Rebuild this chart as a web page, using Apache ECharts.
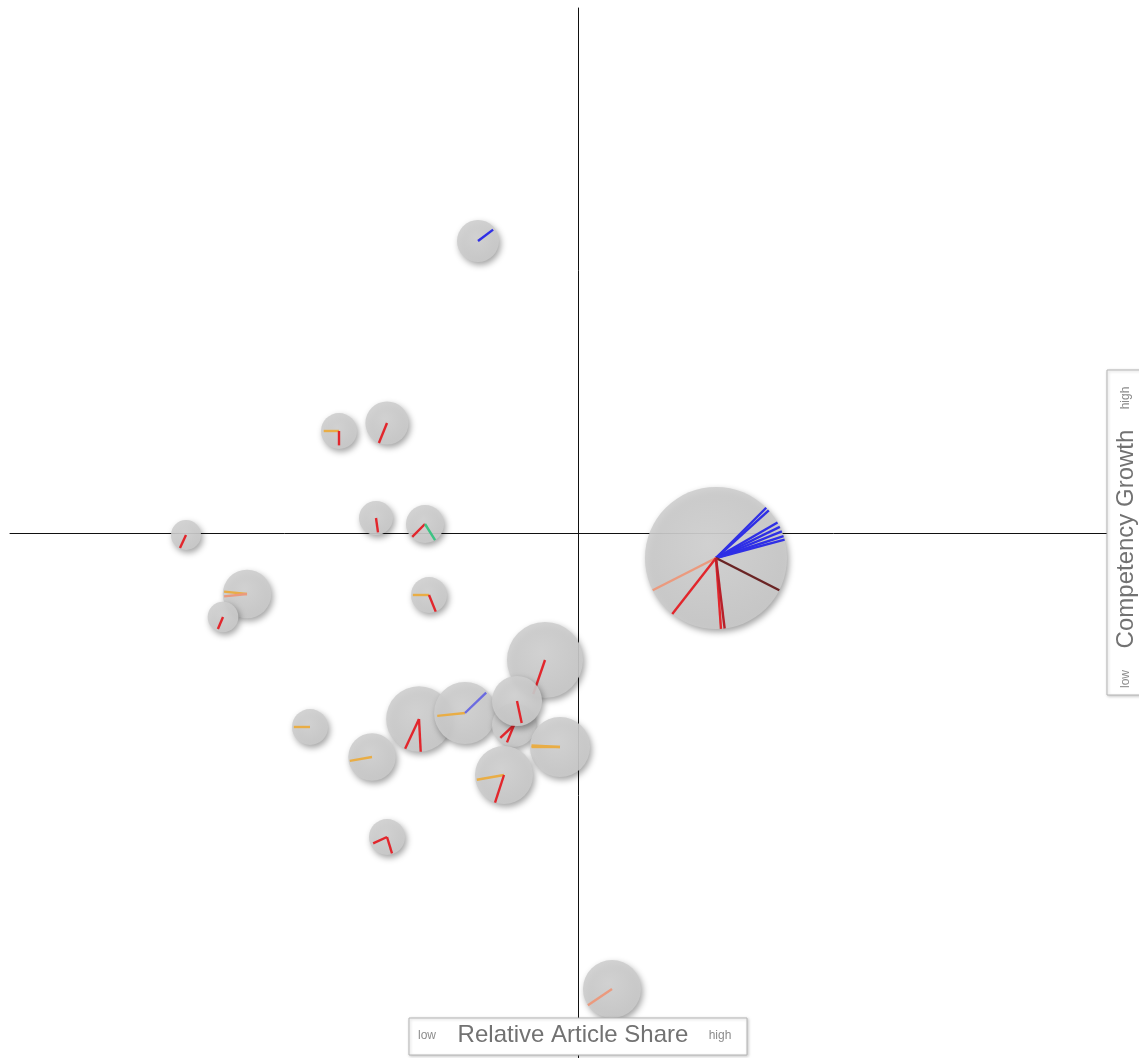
<!DOCTYPE html>
<html>
<head>
<meta charset="utf-8">
<script src="https://cdn.jsdelivr.net/npm/echarts@6/dist/echarts.min.js"></script>
<style>
  html, body { margin: 0; padding: 0; background: #fff; }
  #main { width: 1139px; height: 1058px; }
</style>
</head>
<body>
<div id="main"></div>
<script>
// bubble positions (relative article share / competency growth) and article counts
const bubbleX = [-1.00, -2.39, -1.91, -3.92, -2.02, -1.53, -3.31, -3.55, -1.49, 1.38, -0.33,
                 -1.59, -1.13, -0.64, -0.61, -0.18, -0.74, -2.68, -2.06, -1.91, 0.34];
const bubbleY = [2.92, 1.02, 1.10, -0.02, 0.15, 0.09, -0.61, -0.84, -0.62, -0.25, -1.27,
                 -1.86, -1.80, -1.92, -1.68, -2.14, -2.42, -1.94, -2.24, -3.04, -4.56];
const bubbleCount = [9, 6.6, 9.5, 4.6, 5.9, 7.4, 12, 4.8, 6.6, 103, 29.5,
                     22, 19.6, 9.9, 12.8, 18.4, 17.2, 6.6, 11.5, 6.6, 17.2];

// spokes: bubble index, angle (deg, ccw from east), length (share of radius), colour
const spokeBubble = [0, 1, 1, 2, 3, 4, 5, 5, 6, 6, 7, 8, 8,
                     9, 9, 9, 9, 9, 9, 9, 9, 9, 9, 9, 9,
                     10, 11, 11, 12, 12, 13, 13, 14, 15, 15, 16, 16, 17, 18, 19, 19, 20];
const spokeAngle = [37, 180, -90, -112, -115, -82, -135, -58, 174, 186, -113, 180, -68,
                    45, 42, 30, 26, 22, 18, 15, -27, -153, -128, -86, -83,
                    -109, -115, -87, 186, 44, -137, -112, -78, 180, 177, 190, -108, 180, 190, 205, -73, 214];
const spokeLen = [0.9, 0.85, 0.8, 1.0, 0.95, 0.85, 0.95, 1.0, 0.95, 0.95, 0.85, 0.9, 1.0,
                  1, 1, 1, 1, 1, 1, 1, 1, 1, 1, 1, 1,
                  0.95, 1.0, 1.0, 0.9, 0.95, 0.85, 0.85, 0.9, 0.95, 0.95, 0.95, 1.0, 0.9, 0.95, 0.85, 0.95, 1.0];
const spokeColor = ['blue', 'orange', 'red', 'red', 'red', 'red', 'red', 'green', 'orange', 'salmon', 'red', 'orange', 'red',
                    'blue', 'blue', 'blue', 'blue', 'blue', 'blue', 'blue', 'brown', 'salmon', 'red', 'red', 'darkred',
                    'red', 'red', 'red', 'orange', 'violet', 'red', 'red', 'red', 'orange', 'orange', 'orange', 'red',
                    'orange', 'orange', 'red', 'red', 'salmon'];

const palette = {
    red: '#e2262c',
    darkred: '#b8202a',
    orange: '#e9ad45',
    salmon: '#eb9a7e',
    blue: '#2f2fe6',
    violet: '#6b6be0',
    green: '#3cc383',
    brown: '#6a2424'
};

const bubbleData = bubbleX.map(function (x, i) {
    return [x, bubbleY[i], bubbleCount[i]];
});

function renderBubble(params, api) {
    const i = params.dataIndex;
    const c = api.coord([api.value(0), api.value(1)]);
    const r = Math.sqrt(api.value(2)) * 7;
    const children = [{
        type: 'circle',
        shape: { cx: c[0], cy: c[1], r: r },
        style: {
            fill: {
                type: 'radial', x: 0.45, y: 0.4, r: 0.7,
                colorStops: [
                    { offset: 0, color: '#d6d6d6' },
                    { offset: 1, color: '#c8c8c8' }
                ]
            },
            opacity: 0.9,
            shadowBlur: 6,
            shadowOffsetX: 2,
            shadowOffsetY: 3,
            shadowColor: 'rgba(0,0,0,0.4)'
        }
    }];
    for (let k = 0; k < spokeBubble.length; k++) {
        if (spokeBubble[k] !== i) continue;
        const a = spokeAngle[k] * Math.PI / 180;
        const len = spokeLen[k] * r;
        children.push({
            type: 'line',
            shape: {
                x1: c[0], y1: c[1],
                x2: c[0] + Math.cos(a) * len,
                y2: c[1] - Math.sin(a) * len
            },
            style: { stroke: palette[spokeColor[k]], lineWidth: 2.4 }
        });
    }
    return { type: 'group', children: children };
}

const boxText = '#727272';
const smallText = '#8c8c8c';

var option = {
    animation: false,
    backgroundColor: '#ffffff',
    grid: { left: 10, right: 31, top: 8, bottom: 0 },
    xAxis: {
        type: 'value',
        min: -5.68,
        max: 5.30,
        axisLine: { onZero: true, lineStyle: { color: '#111', width: 1 } },
        axisTick: { show: false },
        axisLabel: { show: false },
        splitLine: { show: false }
    },
    yAxis: {
        type: 'value',
        min: -5.25,
        max: 5.25,
        axisLine: { onZero: true, lineStyle: { color: '#111', width: 1 } },
        axisTick: { show: false },
        axisLabel: { show: false },
        splitLine: { show: false }
    },
    series: [{
        type: 'custom',
        renderItem: renderBubble,
        clip: false,
        encode: { x: 0, y: 1 },
        data: bubbleData
    }],
    graphic: [
        {
            type: 'rect', z: 10,
            shape: { x: 409, y: 1018, width: 338, height: 37 },
            style: { fill: '#fff', stroke: '#b5b5b5', lineWidth: 1,
                     shadowBlur: 3, shadowOffsetX: 1, shadowOffsetY: 1, shadowColor: 'rgba(0,0,0,0.2)' }
        },
        {
            type: 'text', z: 11, x: 427, y: 1036,
            style: { text: 'low', fill: smallText, font: '12px "Liberation Sans", Arial, sans-serif',
                     textAlign: 'center', textVerticalAlign: 'middle' }
        },
        {
            type: 'text', z: 11, x: 573, y: 1035,
            style: { text: 'Relative Article Share', fill: boxText, font: '24px "Liberation Sans", Arial, sans-serif',
                     textAlign: 'center', textVerticalAlign: 'middle' }
        },
        {
            type: 'text', z: 11, x: 720, y: 1036,
            style: { text: 'high', fill: smallText, font: '12px "Liberation Sans", Arial, sans-serif',
                     textAlign: 'center', textVerticalAlign: 'middle' }
        },
        {
            type: 'rect', z: 10,
            shape: { x: 1107, y: 370, width: 40, height: 325 },
            style: { fill: '#fff', stroke: '#b5b5b5', lineWidth: 1,
                     shadowBlur: 3, shadowOffsetX: 1, shadowOffsetY: 1, shadowColor: 'rgba(0,0,0,0.2)' }
        },
        {
            type: 'text', z: 11, x: 1126, y: 679, rotation: Math.PI / 2,
            style: { text: 'low', fill: smallText, font: '12px "Liberation Sans", Arial, sans-serif',
                     textAlign: 'center', textVerticalAlign: 'middle' }
        },
        {
            type: 'text', z: 11, x: 1126, y: 539, rotation: Math.PI / 2,
            style: { text: 'Competency Growth', fill: boxText, font: '24px "Liberation Sans", Arial, sans-serif',
                     textAlign: 'center', textVerticalAlign: 'middle' }
        },
        {
            type: 'text', z: 11, x: 1126, y: 398, rotation: Math.PI / 2,
            style: { text: 'high', fill: smallText, font: '12px "Liberation Sans", Arial, sans-serif',
                     textAlign: 'center', textVerticalAlign: 'middle' }
        }
    ]
};

var myChart = echarts.init(document.getElementById('main'));
option && myChart.setOption(option);
</script>
</body>
</html>
